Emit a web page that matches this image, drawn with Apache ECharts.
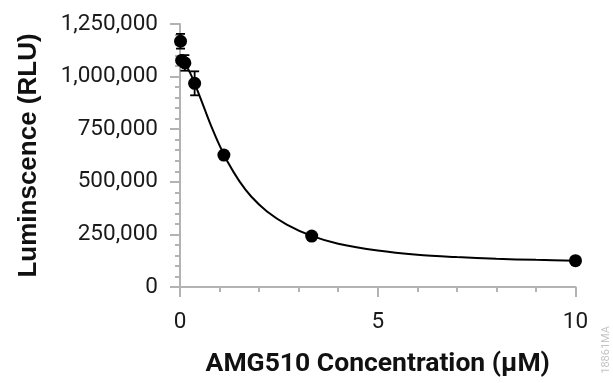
<!DOCTYPE html>
<html>
<head>
<meta charset="utf-8">
<script src="https://cdn.jsdelivr.net/npm/echarts@6/dist/echarts.min.js"></script>
<style>
html,body{margin:0;padding:0;background:#fff;}
#chart{width:613px;height:383px;}
</style>
</head>
<body>
<div id="chart"></div>
<script>
// Measured points (concentration in µM, luminescence RLU, ± error)
const concentrations = [0.0137, 0.041, 0.123, 0.37, 1.11, 3.33, 10];
const luminescence   = [1168000, 1077000, 1065000, 968000, 627000, 242000, 125000];
const errors         = [35000, 8000, 37000, 57000, 6000, 5000, 4000];

// Fitted curve
const curveX = [0.0137, 0.05, 0.123, 0.25, 0.37, 0.5, 0.65, 0.8, 1.0, 1.2, 1.5, 1.8, 2.2, 2.7, 3.33, 4.0, 5.0, 6.0, 7.0, 8.0, 9.0, 10];
const curveY = [1075000, 1072000, 1061000, 1020000, 968000, 906000, 832000, 760000, 673000, 596000, 503000, 430000, 359000, 297000, 243000, 206000, 173000, 153000, 142000, 134000, 129000, 125000];

const xTicks = [0, 5, 10];
const yTicks = [0, 250000, 500000, 750000, 1000000, 1250000];

const xAxisTitle = 'AMG510 Concentration (μM)';
const yAxisTitle = 'Luminscence (RLU)';
const watermark = '18861MA';

const axisGray = '#b3b3b3';
const chart = echarts.init(document.getElementById('chart'));

const points = concentrations.map((c, i) => [c, luminescence[i]]);
const bars = concentrations.map((c, i) => [c, luminescence[i] - errors[i], luminescence[i] + errors[i]]);
const curve = curveX.map((x, i) => [x, curveY[i]]);

function axisCommon() {
  return {
    axisLine: {show: true, lineStyle: {color: axisGray, width: 2}},
    axisTick: {show: true, inside: false, length: 10, lineStyle: {color: axisGray, width: 2}},
    minorTick: {show: true, splitNumber: 5, length: 5, lineStyle: {color: axisGray, width: 2}},
    splitLine: {show: false},
    minorSplitLine: {show: false}
  };
}

chart.setOption({
  animation: false,
  backgroundColor: '#fff',
  grid: {left: 180, right: 37.5, top: 24, bottom: 96, containLabel: false},
  xAxis: Object.assign(axisCommon(), {
    type: 'value',
    min: xTicks[0], max: xTicks[xTicks.length - 1], interval: xTicks[1] - xTicks[0],
    axisLabel: {color: '#1a1a1a', fontFamily: 'Roboto', fontSize: 22.5, margin: 24},
    name: xAxisTitle, nameLocation: 'middle', nameGap: 64,
    nameTextStyle: {color: '#111', fontFamily: 'Roboto', fontWeight: 'bold', fontSize: 26.5}
  }),
  yAxis: Object.assign(axisCommon(), {
    type: 'value',
    min: yTicks[0], max: yTicks[yTicks.length - 1], interval: yTicks[1] - yTicks[0],
    axisLabel: {color: '#1a1a1a', fontFamily: 'Roboto', fontSize: 22.5, margin: 22,
      formatter: v => v.toLocaleString('en-US')},
    name: yAxisTitle, nameLocation: 'middle', nameGap: 138, nameRotate: 90,
    nameTextStyle: {color: '#111', fontFamily: 'Liberation Sans', fontWeight: 'bold', fontSize: 26}
  }),
  graphic: [{
    type: 'text', left: 601, top: 326, rotation: Math.PI / 2,
    style: {text: watermark, fill: '#c4c4c4', font: '11px Roboto'}
  }],
  series: [
    {
      type: 'line', data: curve, smooth: 0.3, showSymbol: false, symbol: 'none',
      lineStyle: {color: '#000', width: 2}, z: 2
    },
    {
      type: 'custom', data: bars, z: 3,
      renderItem: function (params, api) {
        const x = api.value(0);
        const top = api.coord([x, api.value(2)]);
        const bot = api.coord([x, api.value(1)]);
        const hw = 4.5;
        const st = {stroke: '#000', lineWidth: 1.8};
        return {type: 'group', children: [
          {type: 'line', shape: {x1: top[0], y1: top[1], x2: bot[0], y2: bot[1]}, style: st},
          {type: 'line', shape: {x1: top[0] - hw, y1: top[1], x2: top[0] + hw, y2: top[1]}, style: st},
          {type: 'line', shape: {x1: bot[0] - hw, y1: bot[1], x2: bot[0] + hw, y2: bot[1]}, style: st}
        ]};
      }
    },
    {
      type: 'scatter', data: points, symbol: 'circle', symbolSize: 13,
      itemStyle: {color: '#000', opacity: 1}, z: 4
    }
  ]
});
</script>
</body>
</html>
